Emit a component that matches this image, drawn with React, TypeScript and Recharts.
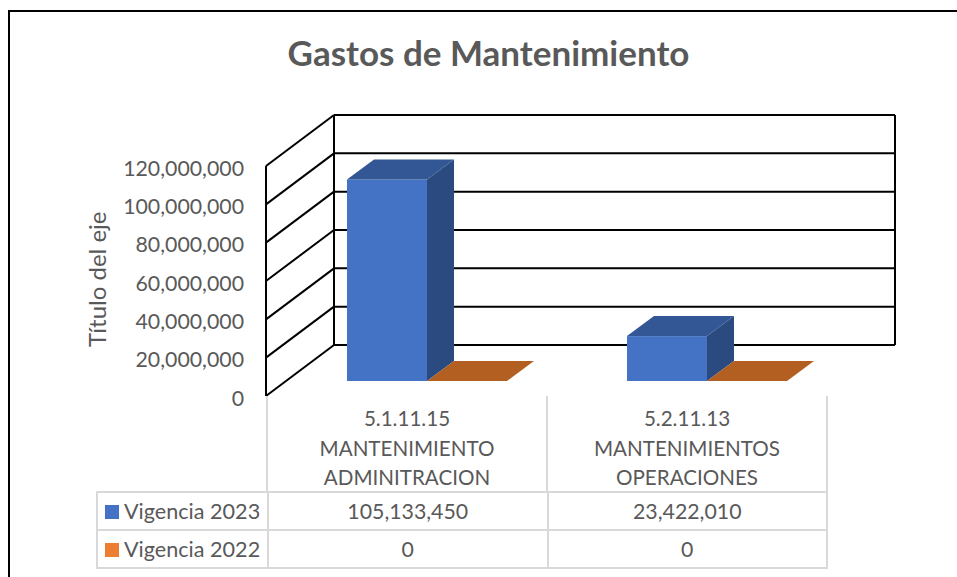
import React from 'react';
import { BarChart, Bar, XAxis, YAxis, CartesianGrid, ReferenceArea } from 'recharts';

const categories = ['5.1.11.15 MANTENIMIENTO ADMINITRACION', '5.2.11.13 MANTENIMIENTOS OPERACIONES'];
const categoryLines = [
  ['5.1.11.15', 'MANTENIMIENTO', 'ADMINITRACION'],
  ['5.2.11.13', 'MANTENIMIENTOS', 'OPERACIONES'],
];
const vigencia2023 = [105133450, 23422010];
const vigencia2022 = [0, 0];
const yTicks = [0, 20000000, 40000000, 60000000, 80000000, 100000000, 120000000];

const chartData = categories.map((name, i) => ({
  name,
  v2023: vigencia2023[i],
  v2022: vigencia2022[i],
}));

const FONT = 'Lato, "Open Sans", sans-serif';
const TEXT = '#595959';
const GRID = '#d9d9d9';
const BLUE = '#4472c4';
const ORANGE = '#ed7d31';

// the 3D look: how far the walls go back, where the bars sit, how deep they are
const WALL_DX = 68;
const WALL_DY = 51;
const BAR_DX = 20;
const BAR_DY = 15;
const DEPTH_DX = 27;
const DEPTH_DY = 20;

const fmt = (v: number) => v.toLocaleString('en-US');

const WallLine = ({ x1, y1, x2 }: any) => (
  <g stroke="#000" strokeWidth={2} fill="none">
    <line x1={x1 - 1} y1={y1} x2={x1 - 1 + WALL_DX} y2={y1 - WALL_DY} />
    <line x1={x1 - 1 + WALL_DX} y1={y1 - WALL_DY} x2={x2 + WALL_DX} y2={y1 - WALL_DY} />
  </g>
);

const WallFrame = ({ x, y, width, height }: any) => (
  <g stroke="#000" strokeWidth={2} fill="none">
    <line x1={x - 1} y1={y} x2={x - 1} y2={y + height} />
    <line x1={x - 1 + WALL_DX} y1={y - WALL_DY} x2={x - 1 + WALL_DX} y2={y + height - WALL_DY} />
    <line x1={x + width + WALL_DX} y1={y - WALL_DY} x2={x + width + WALL_DX} y2={y + height - WALL_DY} />
  </g>
);

const Bar3D = ({ x, y, width, height, front, top, side }: any) => {
  const l = x + BAR_DX;
  const r = l + width;
  const t = y - BAR_DY;
  const b = t + height;
  return (
    <g>
      {height > 0 && <rect x={l} y={t} width={width} height={height} fill={front} />}
      {height > 0 && (
        <polygon
          points={`${r},${t} ${r + DEPTH_DX},${t - DEPTH_DY} ${r + DEPTH_DX},${b - DEPTH_DY} ${r},${b}`}
          fill={side}
        />
      )}
      <polygon
        points={`${l},${t} ${l + DEPTH_DX},${t - DEPTH_DY} ${r + DEPTH_DX},${t - DEPTH_DY} ${r},${t}`}
        fill={top}
      />
    </g>
  );
};

const CategoryTick = ({ x, payload, index }: any) => {
  const lines = categoryLines[payload.index ?? index] ?? [];
  return (
    <g>
      <line x1={x - 140} y1={396} x2={x - 140} y2={492} stroke={GRID} strokeWidth={2} />
      <line x1={x + 140} y1={396} x2={x + 140} y2={492} stroke={GRID} strokeWidth={2} />
      {lines.map((line, i) => (
        <text key={line} x={x} y={426 + i * 29.5} textAnchor="middle" fontFamily={FONT} fontSize={20.6} fill={TEXT}>
          {line}
        </text>
      ))}
    </g>
  );
};

const cell: React.CSSProperties = {
  border: `2px solid ${GRID}`,
  padding: 0,
  textAlign: 'center',
  height: 36,
};

const LegendCell = ({ color, label }: { color: string; label: string }) => (
  <td style={{ ...cell, width: 169, textAlign: 'left', whiteSpace: 'nowrap', fontSize: 21.6 }}>
    <span style={{ display: 'inline-block', width: 14, height: 14, background: color, margin: '0 5px 0 7px' }} />
    {label}
  </td>
);

export default function App() {
  return (
    <div style={{ position: 'absolute', left: 0, top: 0, width: 957, height: 577, overflow: 'hidden', background: '#fff' }}>
      <div style={{ position: 'absolute', left: 8, top: 10, width: 949, height: 567, borderLeft: '2px solid #000', borderTop: '2px solid #000' }} />
      <BarChart
        width={957}
        height={577}
        data={chartData}
        barCategoryGap={60}
        barGap={0}
        margin={{ top: 166, right: 130, bottom: 0, left: 0 }}
        style={{ position: 'absolute', left: 0, top: 0 }}
      >
        <text x={488.5} y={66} textAnchor="middle" fontFamily={FONT} fontWeight={700} fontSize={35} fill={TEXT}>
          Gastos de Mantenimiento
        </text>
        <CartesianGrid vertical={false} horizontal={(props: any) => <WallLine {...props} />} />
        <ReferenceArea y1={0} y2={120000000} shape={<WallFrame />} ifOverflow="visible" />
        <XAxis
          dataKey="name"
          height={181}
          axisLine={false}
          tickLine={false}
          interval={0}
          tick={<CategoryTick />}
        />
        <YAxis
          width={267}
          domain={[0, 120000000]}
          ticks={yTicks}
          tickFormatter={fmt}
          axisLine={false}
          tickLine={false}
          tickSize={0}
          tickMargin={23}
          tick={{ fontFamily: FONT, fontSize: 21.3, fill: TEXT, dy: 2 }}
          label={{
            value: 'Título del eje',
            angle: -90,
            position: 'insideLeft',
            dx: 92,
            dy: 66,
            style: { fontFamily: FONT, fontSize: 24, fill: TEXT },
          }}
        />
        <Bar
          dataKey="v2023"
          isAnimationActive={false}
          shape={(p: any) => <Bar3D {...p} front={BLUE} top="#335694" side="#2a4a80" />}
        />
        <Bar
          dataKey="v2022"
          isAnimationActive={false}
          shape={(p: any) => <Bar3D {...p} front={ORANGE} top="#b35f22" side="#9c521d" />}
        />
      </BarChart>
      <table
        style={{
          position: 'absolute',
          left: 96,
          top: 491,
          width: 732,
          borderCollapse: 'collapse',
          tableLayout: 'fixed',
          fontFamily: FONT,
          fontSize: 21.3,
          color: TEXT,
          lineHeight: '34px',
        }}
      >
        <tbody>
          <tr>
            <LegendCell color={BLUE} label="Vigencia 2023" />
            {vigencia2023.map((v, i) => (
              <td key={i} style={cell}>{fmt(v)}</td>
            ))}
          </tr>
          <tr>
            <LegendCell color={ORANGE} label="Vigencia 2022" />
            {vigencia2022.map((v, i) => (
              <td key={i} style={cell}>{fmt(v)}</td>
            ))}
          </tr>
        </tbody>
      </table>
    </div>
  );
}
